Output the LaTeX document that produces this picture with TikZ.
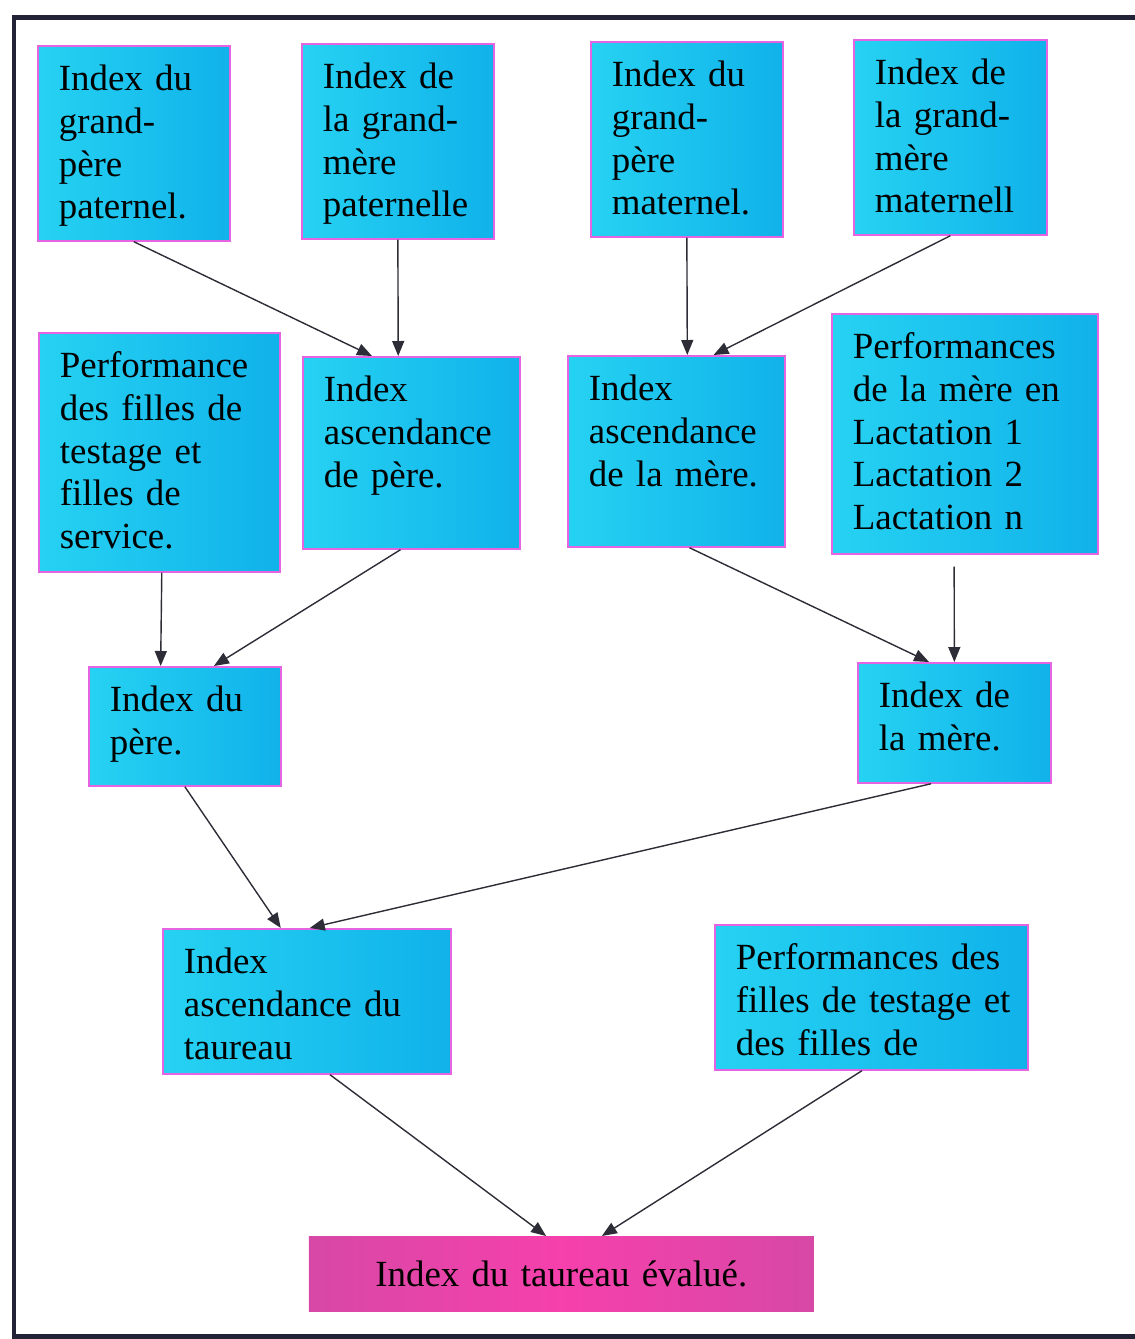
\documentclass[tikz,border=0pt]{standalone}
\usepackage{fontspec}
\setmainfont{Liberation Serif}
\usetikzlibrary{arrows.meta, calc}

\definecolor{cyanhaut}{RGB}{38,210,242}
\definecolor{cyanbas}{RGB}{16,178,234}
\definecolor{bordrose}{RGB}{230,100,225}
\definecolor{rosevif}{RGB}{246,64,172}
\definecolor{roseprune}{RGB}{215,72,166}
\definecolor{cadre}{RGB}{35,35,55}
\definecolor{gristrait}{RGB}{45,45,55}

\begin{document}
\begin{tikzpicture}[x=0.02cm, y=-0.02cm,
	bloc/.style={draw=bordrose, line width=1pt, left color=cyanhaut, right color=cyanbas, anchor=north west, align=left,
		inner xsep=0.42cm, inner ysep=0.4cm, text height=0.49cm, font=\fontsize{21}{24.4}\selectfont},
	final/.style={bloc, draw=none, left color=roseprune, right color=roseprune, middle color=rosevif, align=center, inner ysep=0.5cm},
	fleche/.style={draw=gristrait, line width=0.8pt, -{Triangle[length=0.3cm, width=0.24cm]}}]
	\useasboundingbox (0,0) rectangle (1135,1339);
	\draw[cadre, line width=0.1cm] (14,17) rectangle (1140,1336);

	% grands-parents
	\node[bloc, text width=3.0cm, text depth=2.61cm] (gpp) at (37,45) {Index du\\grand-\\père\\paternel.};
	\node[bloc, text width=3.0cm, text depth=2.61cm] (gmp) at (301,43) {Index de\\la grand-\\mère\\paternelle};
	\node[bloc, text width=3.0cm, text depth=2.61cm] (gpm) at (590,41) {Index du\\grand-\\père\\maternel.};
	\node[bloc, text width=3.02cm, text depth=2.61cm] (gmm) at (853,39) {Index de\\la grand-\\mère\\maternell};

	% parents
	\node[bloc, text width=3.98cm, text depth=3.49cm] (perfp) at (38,332) {Performance\\des filles de\\testage et\\filles de\\service.};
	\node[bloc, text width=3.5cm, text depth=2.55cm] (ascp) at (302,356) {Index\\ascendance\\de père.};
	\node[bloc, text width=3.5cm, text depth=2.53cm] (ascm) at (567,355) {Index\\ascendance\\de la mère.};
	\node[bloc, text width=4.48cm, text depth=3.51cm] (perfm) at (831,313) {Performances\\de la mère en\\Lactation 1\\Lactation 2\\Lactation n};
	\node[bloc, text width=3.0cm, text depth=1.09cm] (pere) at (88,666) {Index du\\père.};
	\node[bloc, text width=3.02cm, text depth=1.11cm] (mere) at (857,662) {Index de\\la mère.};

	% taureau
	\node[bloc, text width=4.92cm, text depth=1.61cm] (asct) at (162,928) {Index\\ascendance du\\taureau};
	\node[bloc, text width=5.42cm, text depth=1.61cm] (perft) at (714,924) {Performances des\\\mbox{filles de testage et}\\des filles de};
	\node[final, text width=9.26cm, text depth=0.01cm] (taureau) at (308,1236) {Index du taureau évalué.};

	\foreach \a/\fa/\b/\fb/\dy in {gpp/0.5/ascp/0.32/0, gmp/0.5/ascp/0.44/0, gpm/0.5/ascm/0.55/0, gmm/0.5/ascm/0.67/0,
		perfp/0.51/pere/0.375/0, ascp/0.45/pere/0.65/0, ascm/0.56/mere/0.37/0, perfm/0.46/mere/0.5/12,
		pere/0.5/asct/0.41/0, mere/0.38/asct/0.51/0, asct/0.58/taureau/0.47/0, perft/0.47/taureau/0.58/0}{
		\draw[fleche] ($(\a.south west)!\fa!(\a.south east) + (0,\dy)$) -- ($(\b.north west)!\fb!(\b.north east)$);
	}
\end{tikzpicture}
\end{document}
